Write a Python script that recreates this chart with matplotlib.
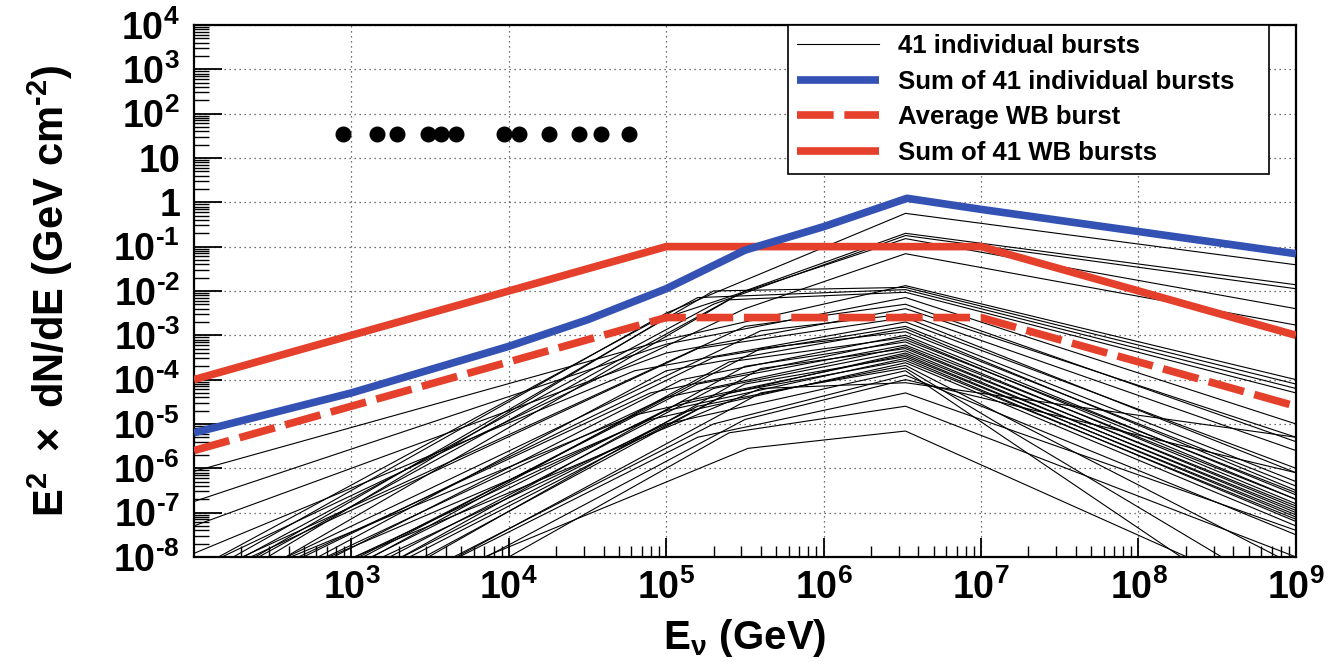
import numpy as np
import matplotlib
matplotlib.use('Agg')
import matplotlib.pyplot as plt
from matplotlib.ticker import LogLocator, FixedLocator, FixedFormatter, NullFormatter

plt.rcParams['font.family'] = ['Liberation Sans', 'DejaVu Sans']
plt.rcParams['font.weight'] = 'bold'
plt.rcParams['mathtext.fontset'] = 'custom'
plt.rcParams['mathtext.rm'] = 'Liberation Sans:bold'
plt.rcParams['mathtext.bf'] = 'Liberation Sans:bold'
plt.rcParams['mathtext.it'] = 'Liberation Sans:bold'
plt.rcParams['mathtext.sf'] = 'Liberation Sans:bold'

# ---------- data (log10 GeV / log10 flux) ----------
# individual bursts: knots at 1e2, first break, common peak, 1e9
LG_E_MIN, LG_E_PEAK, LG_E_MAX = 2.0, 6.52, 9.0
burst_f100 = [-8.5, -8.8, -8.6, -9.0, -8.3, -6.07, -8.8, -8.3, -9.2, -6.75,
              -8.5, -7.3, -9.0, -8.6, -7.92, -9.2, -9.5, -10.0, -9.6, -10.2,
              -9.1, -10.6, -9.9, -9.4, -11.0, -10.3, -8.9, -10.0, -10.8, -9.7,
              -10.5, -9.3, -10.4, -11.2, -10.0, -11.0, -11.5, -9.5, -11.0, -12.0,
              -10.7]
burst_eb = [5.0, 5.5, 5.3, 5.0, 5.5, 5.0, 5.3, 5.2, 5.4, 5.0,
            5.5, 5.0, 5.6, 5.2, 4.8, 5.3, 5.0, 5.6, 5.1, 5.4,
            4.9, 5.5, 5.2, 5.0, 5.6, 5.3, 4.8, 5.1, 5.5, 5.0,
            5.4, 4.9, 5.2, 5.6, 5.0, 5.3, 5.5, 5.6, 5.2, 5.4,
            5.52]
burst_fb = [-2.5, -2.0, -2.3, -2.6, -2.4, -3.1, -2.0, -2.15, -2.2, -3.2,
            -2.8, -3.4, -2.9, -3.3, -3.8, -3.5, -3.8, -3.3, -4.0, -3.6,
            -4.3, -3.7, -4.1, -4.4, -3.75, -4.2, -4.8, -4.5, -4.1, -4.7,
            -4.3, -4.9, -4.6, -4.3, -5.0, -5.0, -4.9, -4.2, -5.3, -5.2,
            -5.55]
burst_fpk = [-0.25, -0.70, -0.75, -0.82, -1.16, -1.88, -1.92, -1.97, -2.03, -2.15,
             -2.30, -2.40, -2.52, -2.60, -2.70, -2.80, -2.85, -2.92, -3.00, -3.05,
             -3.10, -3.15, -3.22, -3.26, -3.30, -3.35, -3.40, -3.44, -3.48, -3.52,
             -3.57, -3.62, -3.68, -3.74, -3.80, -3.90, -4.00, -4.07, -4.30, -4.60,
             -5.16]
burst_f1e9 = [-1.41, -1.86, -1.95, -2.40, -2.77, -4.00, -4.10, -4.20, -4.30, -5.00,
              -5.40, -5.30, -5.60, -6.10, -6.00, -6.30, -6.50, -6.40, -6.60, -6.70,
              -6.55, -6.80, -6.70, -6.90, -6.85, -7.00, -6.95, -7.10, -7.05, -7.20,
              -7.15, -7.30, -8.20, -9.00, -9.75, -7.50, -6.10, -5.30, -7.40, -8.00,
              -9.10]

# sum of the 41 individual bursts
sum_lgE = [2.0, 3.0, 4.0, 4.5, 5.0, 5.5, 6.0, 6.53, 7.0, 8.0, 9.0]
sum_lgF = [-5.2, -4.3, -3.25, -2.65, -1.95, -1.08, -0.55, 0.09, -0.16, -0.66, -1.16]

# Waxman-Bahcall
wb_lgE = [2.0, 5.0, 7.0, 9.0]
wb_sum_lgF = [-4.0, -1.0, -1.0, -3.0]
wb_avg_lgF = [-5.6, -2.6, -2.6, -4.6]

# black dots along the top
dot_E = [890, 1465, 1963, 3050, 3690, 4590, 9290, 11600, 18000, 27900, 38600, 58100]
dot_F = [35] * len(dot_E)

x_ticks = [1e3, 1e4, 1e5, 1e6, 1e7, 1e8, 1e9]
x_labels = [r'$\mathbf{10^{3}}$', r'$\mathbf{10^{4}}$', r'$\mathbf{10^{5}}$', r'$\mathbf{10^{6}}$',
            r'$\mathbf{10^{7}}$', r'$\mathbf{10^{8}}$', r'$\mathbf{10^{9}}$']
y_ticks = [1e-8, 1e-7, 1e-6, 1e-5, 1e-4, 1e-3, 1e-2, 1e-1, 1, 10, 1e2, 1e3, 1e4]
y_labels = [r'$\mathbf{10^{\text{-}8}}$', r'$\mathbf{10^{\text{-}7}}$', r'$\mathbf{10^{\text{-}6}}$',
            r'$\mathbf{10^{\text{-}5}}$', r'$\mathbf{10^{\text{-}4}}$', r'$\mathbf{10^{\text{-}3}}$',
            r'$\mathbf{10^{\text{-}2}}$', r'$\mathbf{10^{\text{-}1}}$',
            '1', '10', r'$\mathbf{10^{2}}$', r'$\mathbf{10^{3}}$', r'$\mathbf{10^{4}}$']

BLUE = '#3352b4'
RED = '#e5402b'

# ---------- plot ----------
fig = plt.figure(figsize=(13.32, 6.67), dpi=100)
ax = fig.add_axes([0.1456, 0.165, 0.8273, 0.7976])

for i in range(len(burst_fpk)):
    lx = [LG_E_MIN, burst_eb[i], LG_E_PEAK, LG_E_MAX]
    ly = [burst_f100[i], burst_fb[i], burst_fpk[i], burst_f1e9[i]]
    ax.plot(10 ** np.array(lx), 10 ** np.array(ly), color='black', lw=0.8, zorder=2,
            label='41 individual bursts' if i == 0 else None)

h_wb, = ax.plot(10 ** np.array(wb_lgE), 10 ** np.array(wb_sum_lgF), color=RED, lw=5.5,
                solid_capstyle='butt', zorder=4, label='Sum of 41 WB bursts')
h_avg, = ax.plot(10 ** np.array(wb_lgE), 10 ** np.array(wb_avg_lgF), color=RED, lw=5.5,
                 dashes=(4.8, 1.4), zorder=4, label='Average WB burst')
h_sum, = ax.plot(10 ** np.array(sum_lgE), 10 ** np.array(sum_lgF), color=BLUE, lw=5.5,
                 solid_capstyle='butt', zorder=5, label='Sum of 41 individual bursts')

ax.plot(dot_E, dot_F, 'o', color='black', markersize=10.5, zorder=6)

ax.set_xscale('log')
ax.set_yscale('log')
ax.set_xlim(1e2, 1e9)
ax.set_ylim(1e-8, 1e4)

ax.xaxis.set_major_locator(FixedLocator(x_ticks))
ax.xaxis.set_major_formatter(FixedFormatter(x_labels))
ax.yaxis.set_major_locator(FixedLocator(y_ticks))
ax.yaxis.set_major_formatter(FixedFormatter(y_labels))
ax.xaxis.set_minor_locator(LogLocator(base=10, subs=np.arange(2, 10), numticks=100))
ax.yaxis.set_minor_locator(LogLocator(base=10, subs=np.arange(2, 10), numticks=100))
ax.xaxis.set_minor_formatter(NullFormatter())
ax.yaxis.set_minor_formatter(NullFormatter())

ax.tick_params(axis='both', which='both', direction='in', top=False, right=False, labelsize=27)
ax.tick_params(axis='y', which='major', length=20, width=1.3, pad=10)
ax.tick_params(axis='y', which='minor', length=11, width=1)
ax.tick_params(axis='x', which='major', length=14, width=1.3, pad=9)
ax.tick_params(axis='x', which='minor', length=8, width=1)
for s in ax.spines.values():
    s.set_linewidth(1.6)

ax.grid(True, which='major', linestyle=(0, (1, 3)), color='#444444', lw=0.9)

ax.set_ylabel(r'$\mathbf{E^{2}\ \times\ dN/dE\ (GeV\ cm^{\text{-}2})}$', fontsize=30)
ax.yaxis.set_label_coords(-0.108, 0.5)
ax.set_xlabel(r'$\mathbf{E_{\nu}\ (GeV)}$', fontsize=29)
ax.xaxis.set_label_coords(0.5, -0.112)

handles = [ax.get_lines()[0], h_sum, h_avg, h_wb]
leg = ax.legend(handles=handles, loc='upper left', bbox_to_anchor=(0.539, 0.5, 0.4365, 0.5),
                mode='expand', borderaxespad=0, fancybox=False, edgecolor='black', framealpha=1,
                prop=dict(family='Liberation Sans', weight='bold', size=18.5),
                handlelength=3.2, handletextpad=0.75, labelspacing=0.45, borderpad=0.35)
leg.get_frame().set_linewidth(1.2)
leg.set_zorder(10)

fig.savefig('out.png', dpi=100)
plt.close()
